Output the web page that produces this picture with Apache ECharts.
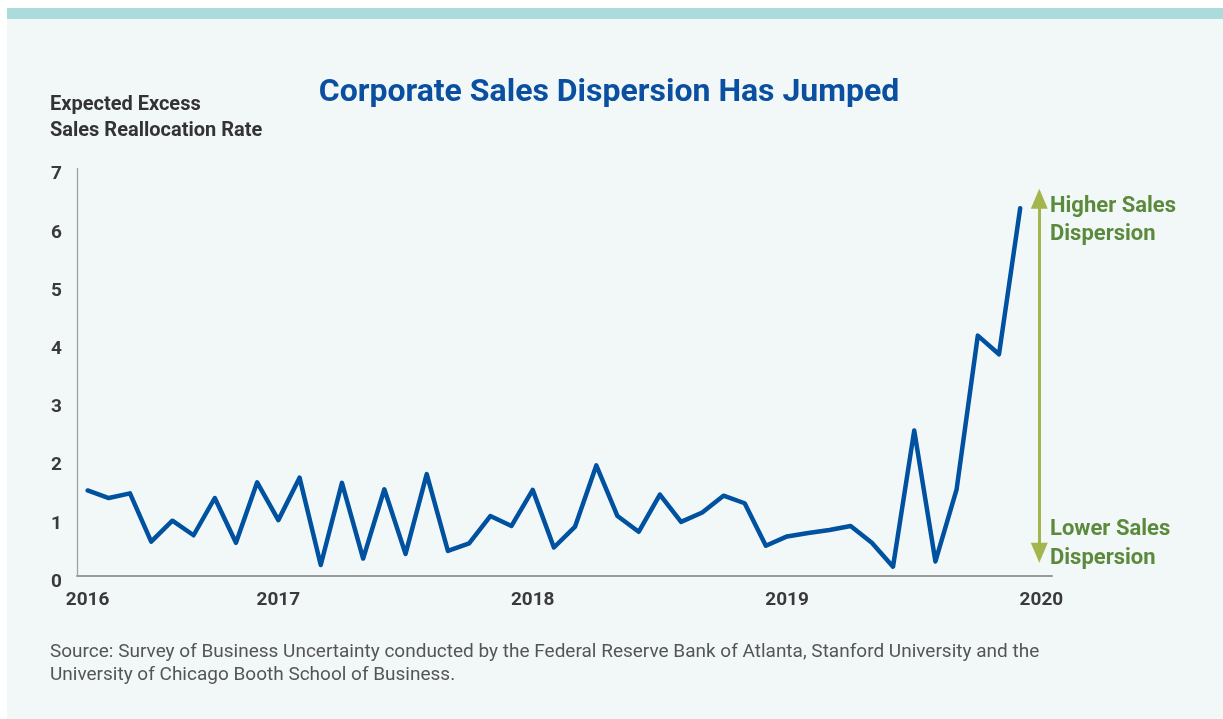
<!DOCTYPE html>
<html>
<head>
<meta charset="utf-8">
<script src="https://cdn.jsdelivr.net/npm/echarts@6/dist/echarts.min.js"></script>
<style>
html,body{margin:0;padding:0;background:#ffffff;}
#wrap{position:absolute;left:7px;top:8px;width:1216px;height:711px;background:#f2f8f8;}
#bar{position:absolute;left:0;top:0;width:100%;height:11px;background:#acdbdb;}
#chart{position:absolute;left:-7px;top:-8px;width:1223px;height:719px;}
</style>
</head>
<body>
<div id="wrap"><div id="bar"></div><div id="chart"></div></div>
<script>
// Months as index from Jan 2016 (0 = Jan 2016); data runs Apr 2016 .. Dec 2019
const months = ['2016-04','2016-05','2016-06','2016-07','2016-08','2016-09','2016-10','2016-11','2016-12',
  '2017-01','2017-02','2017-03','2017-04','2017-05','2017-06','2017-07','2017-08','2017-09','2017-10','2017-11','2017-12',
  '2018-01','2018-02','2018-03','2018-04','2018-05','2018-06','2018-07','2018-08','2018-09','2018-10','2018-11','2018-12',
  '2019-01','2019-02','2019-03','2019-04','2019-05','2019-06','2019-07','2019-08','2019-09','2019-10','2019-11','2019-12'];
const values = [1.47,1.34,1.42,0.59,0.95,0.70,1.34,0.57,1.61,
  0.96,1.69,0.19,1.60,0.30,1.49,0.38,1.75,0.43,0.56,1.03,0.86,
  1.48,0.49,0.85,1.90,1.03,0.76,1.40,0.93,1.09,1.38,1.25,0.52,
  0.68,0.74,0.79,0.86,0.57,0.16,2.50,0.25,1.49,4.13,3.81,6.32];
const xTickValues = [3,12,24,36,48];
const xTickLabels = ['2016','2017','2018','2019','2020'];
const yTicks = [0,1,2,3,4,5,6,7];
// annotation arrow (data coords)
const arrowX = 47.9, arrowLow = 0.40, arrowHigh = 6.48;

function monthIndex(s){const p=s.split('-');return (+p[0]-2016)*12+(+p[1]-1);}
const seriesData = months.map((m,i)=>[monthIndex(m), values[i]]);

const chart = echarts.init(document.getElementById('chart'), null, {renderer:'canvas'});
const fam = 'Roboto, "Liberation Sans", sans-serif';
chart.setOption({
  backgroundColor: 'transparent',
  animation: false,
  title: {
    text: 'Corporate Sales Dispersion Has Jumped',
    left: 604, top: 72, textAlign: 'center',
    textStyle: {color:'#0b50a0', fontSize: 32, fontWeight: 'bold', fontFamily: fam}
  },
  grid: {left: 77, right: 171, top: 168.6, bottom: 143, containLabel: false},
  xAxis: {
    type: 'value', min: 2.5, max: 48.5,
    axisLine: {show: true, lineStyle: {color:'#9a9a9a', width: 2}},
    axisTick: {show: false},
    splitLine: {show: false},
    axisLabel: {
      customValues: xTickValues,
      formatter: v => xTickLabels[xTickValues.indexOf(Math.round(v))] || '',
      color:'#3a3a3a', fontSize: 19, fontWeight:'bold', fontFamily: fam, margin: 15
    }
  },
  yAxis: {
    type: 'value', min: 0, max: 7, interval: 1,
    axisLine: {show: true, lineStyle: {color:'#a0a0a0', width: 1.3}},
    axisTick: {show: false},
    splitLine: {show: false},
    axisLabel: {
      color:'#3a3a3a', fontSize: 19, fontWeight:'bold', fontFamily: fam, margin: 15,
      verticalAlign: 'top', lineHeight: 12,
      formatter: v => yTicks.includes(v) ? String(v) : ''
    }
  },
  series: [{
    type: 'line', data: seriesData, symbol: 'none',
    lineStyle: {color:'#00519f', width: 4.5, join:'round', cap:'round'},
    markLine: {
      silent: true, animation: false,
      symbol: ['triangle','triangle'], symbolSize: [17,20],
      lineStyle: {color:'#a3b54c', width: 3, type:'solid'},
      label: {show: false},
      data: [[{coord:[arrowX, arrowLow]}, {coord:[arrowX, arrowHigh]}]]
    }
  }],
  graphic: [
    {type:'text', left: 50, top: 92, style:{text:'Expected Excess\nSales Reallocation Rate', fill:'#333333', font:'bold 20px '+fam, lineHeight: 26}},
    {type:'text', left: 1050, top: 192, style:{text:'Higher Sales\nDispersion', fill:'#5b8a3c', font:'bold 22px '+fam, lineHeight: 28}},
    {type:'text', left: 1050, top: 515, style:{text:'Lower Sales\nDispersion', fill:'#5b8a3c', font:'bold 22px '+fam, lineHeight: 29}},
    {type:'text', left: 50, top: 641, style:{text:'Source: Survey of Business Uncertainty conducted by the Federal Reserve Bank of Atlanta, Stanford University and the\nUniversity of Chicago Booth School of Business.', fill:'#555555', font:'19px '+fam, lineHeight: 23}}
  ]
});
</script>
</body>
</html>
